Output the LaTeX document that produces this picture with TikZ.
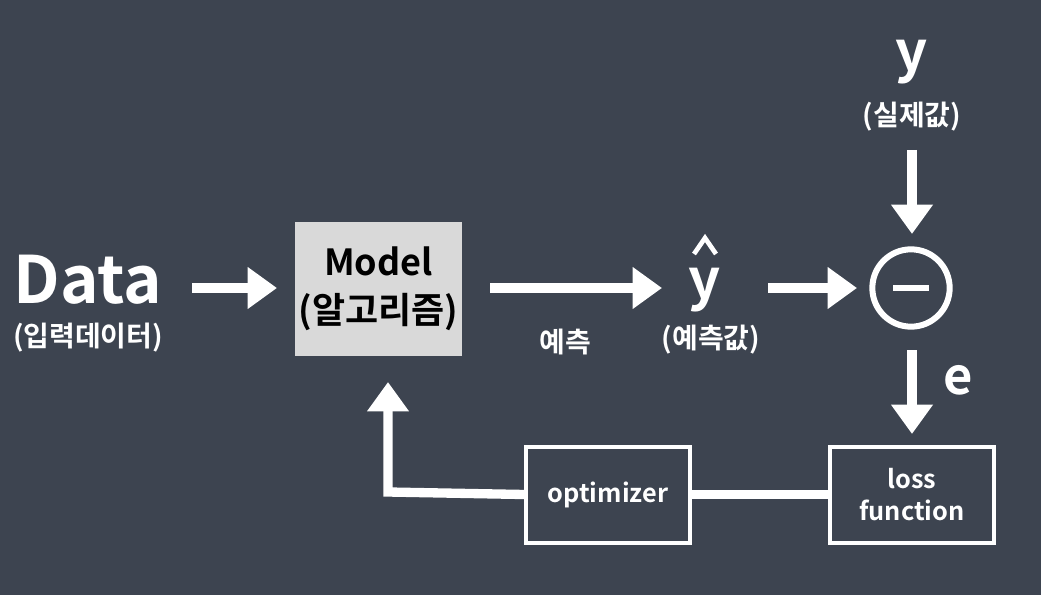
\documentclass[tikz,border=0pt]{standalone}
\usepackage{fontspec}
\setmainfont{Noto Sans CJK KR}[BoldFont={* Bold}]
\usetikzlibrary{arrows.meta}
\definecolor{bg}{HTML}{3D4450}
\definecolor{boxg}{HTML}{D9D9D9}
\begin{document}
\begin{tikzpicture}[x=0.75pt,y=-0.75pt,
  txt/.style={text=white,font=\bfseries,inner sep=0pt},
  big/.style={txt,font=\fontsize{49}{52}\selectfont\bfseries},
  kor/.style={txt,font=\fontsize{21}{24}\selectfont\bfseries},
  arr/.style={white,line width=7.5pt,-{Triangle[length=22pt,width=30pt]}},
  wbox/.style={draw=white,line width=3pt,minimum width=123pt,minimum height=72pt,inner sep=0pt,text=white,align=center,font=\fontsize{19}{24}\selectfont\bfseries},
  link/.style={white,line width=7pt}]
\fill[bg] (0,0) rectangle (1041,595);
\node[big] (data) at (88,280) {Data};
\node[kor] (datak) at (88,338) {(입력데이터)};
\node[fill=boxg,minimum width=125pt,minimum height=100pt,inner sep=0pt,align=center,font=\fontsize{27}{36}\selectfont\bfseries] (model) at (378.5,289) {Model\\(알고리즘)};
\node[txt,font=\fontsize{42}{44}\selectfont\bfseries] (yhat) at (705,290) {y};
\draw[white,line width=3.5pt] (694,254) -- (705,238) -- (716,254);
\node[kor] (yhatk) at (711,340) {(예측값)};
\node[kor] (pred) at (565,342) {예측};
\node[txt,font=\fontsize{42}{44}\selectfont\bfseries] (y) at (912,62) {y};
\node[kor] (yk) at (912,117) {(실제값)};
\node[circle,draw=white,line width=4.5pt,minimum size=58pt,inner sep=0pt] (minus) at (911,288) {};
\draw[white,line width=4.5pt] (893,288) -- (929,288);
\node[txt,font=\fontsize{38}{40}\selectfont\bfseries] (e) at (958,380) {e};
\node[wbox] (loss) at (912,494.5) {loss\\function};
\node[wbox] (opt) at (608,494.5) {optimizer};
\coordinate (a1s) at (192,288); \coordinate (a1e) at (277,288);
\coordinate (a2s) at (490,288); \coordinate (a2e) at (662,288);
\coordinate (a3s) at (768,288); \coordinate (a3e) at (857,288);
\coordinate (a4s) at (912,150); \coordinate (a4e) at (912,234);
\coordinate (a5s) at (912,350); \coordinate (a5e) at (912,434);
\coordinate (corner) at (388,492); \coordinate (up) at (388,382);
\draw[arr] (a1s) -- (a1e);
\draw[arr] (a2s) -- (a2e);
\draw[arr] (a3s) -- (a3e);
\draw[arr] (a4s) -- (a4e);
\draw[arr] (a5s) -- (a5e);
\draw[link] (loss.west) -- (opt.east);
\draw[white,line width=7pt,line join=miter,-{Triangle[length=22pt,width=30pt]}] (opt.west) -- (corner) -- (up);
\end{tikzpicture}
\end{document}
